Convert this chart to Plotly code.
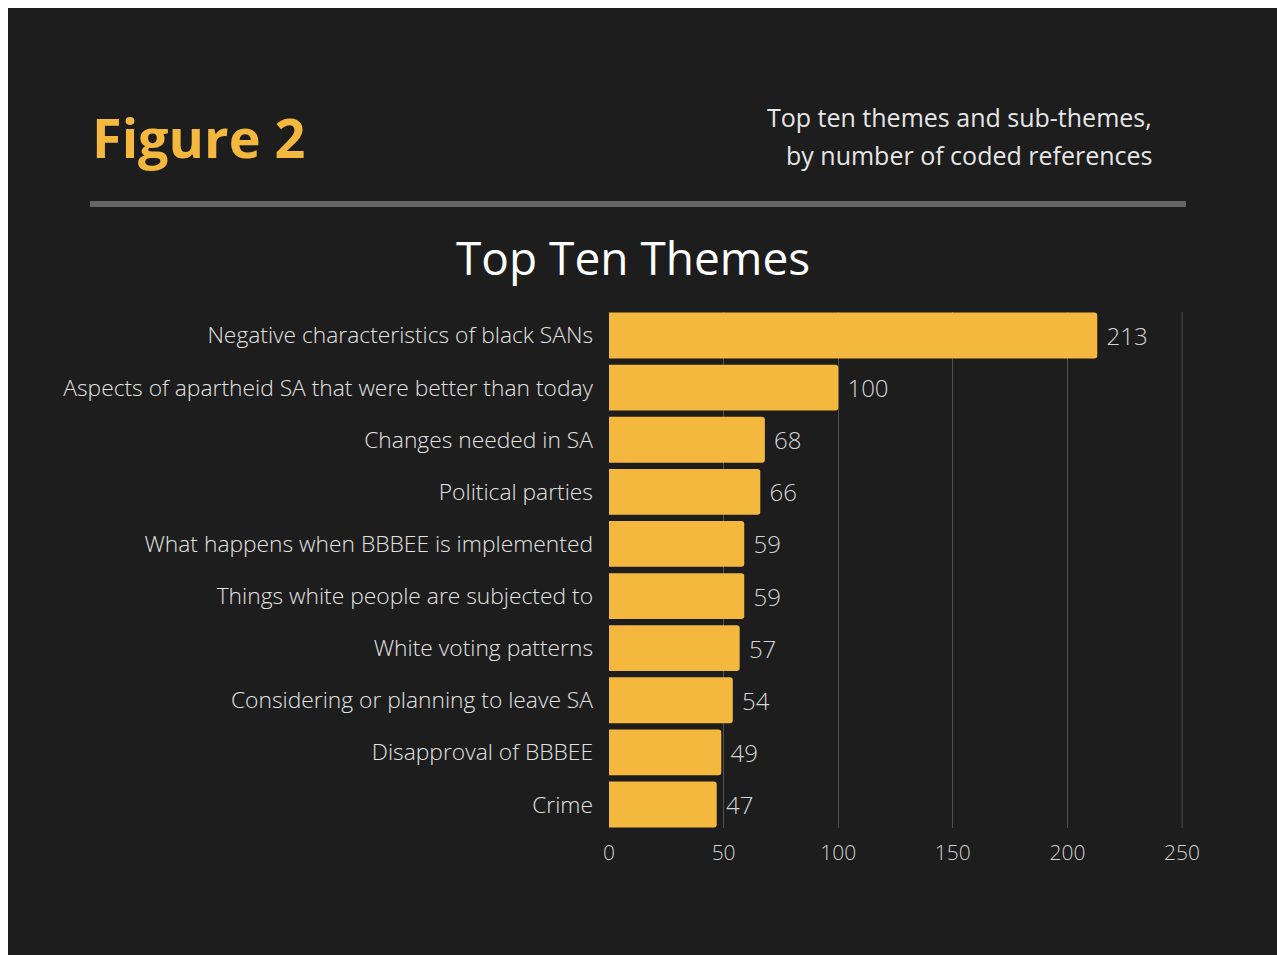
import plotly.graph_objects as go

categories = [
    "Negative characteristics of black SANs",
    "Aspects of apartheid SA that were better than today",
    "Changes needed in SA",
    "Political parties",
    "What happens when BBBEE is implemented",
    "Things white people are subjected to",
    "White voting patterns",
    "Considering or planning to leave SA",
    "Disapproval of BBBEE",
    "Crime",
]
values = [213, 100, 68, 66, 59, 59, 57, 54, 49, 47]
x_ticks = [0, 50, 100, 150, 200, 250]

W, H = 1277, 955
L, R, T, B = 609, 1183, 312, 828
BG = "#1d1d1d"
GOLD = "#f5b83f"
FONT = "Open Sans"
GRID = "#505050"


def px2x(p):
    return (p - L) / (R - L)


def px2y(p):
    return (B - p) / (B - T)


fig = go.Figure()
fig.add_trace(go.Bar(
    x=values,
    y=categories,
    orientation="h",
    marker=dict(color=GOLD, cornerradius=3, line=dict(width=0)),
    text=values,
    textposition="outside",
    texttemplate=" %{text}",
    textfont=dict(family=FONT, size=24, color="#d6d6d6", weight=300),
    cliponaxis=False,
    hoverinfo="skip",
))

shapes = [
    # white border top & left
    dict(type="rect", xref="paper", yref="paper", x0=px2x(0), x1=px2x(W), y0=px2y(0), y1=px2y(8),
         fillcolor="white", line=dict(width=0), layer="above"),
    dict(type="rect", xref="paper", yref="paper", x0=px2x(0), x1=px2x(8), y0=px2y(0), y1=px2y(H),
         fillcolor="white", line=dict(width=0), layer="above"),
    # separator
    dict(type="line", xref="paper", yref="paper", x0=px2x(90), x1=px2x(1186), y0=px2y(204), y1=px2y(204),
         line=dict(color="#666666", width=6)),
    # last gridline at the range edge
    dict(type="line", xref="x", yref="paper", x0=x_ticks[-1], x1=x_ticks[-1], y0=0, y1=1,
         line=dict(color=GRID, width=1), layer="below"),
]

annotations = [
    dict(text="<b>Figure 2</b>", xref="paper", yref="paper", x=px2x(90), y=px2y(137),
         xanchor="left", yanchor="middle", showarrow=False,
         font=dict(family=FONT, size=54, color=GOLD)),
    dict(text="Top ten themes and sub-themes,", xref="paper", yref="paper", x=px2x(1154), y=px2y(117),
         xanchor="right", yanchor="middle", showarrow=False,
         font=dict(family=FONT, size=25, color="#e6e6e6")),
    dict(text="by number of coded references", xref="paper", yref="paper", x=px2x(1154), y=px2y(155),
         xanchor="right", yanchor="middle", showarrow=False,
         font=dict(family=FONT, size=25, color="#e6e6e6")),
    dict(text="Top Ten Themes", xref="paper", yref="paper", x=px2x(633), y=px2y(257),
         xanchor="center", yanchor="middle", showarrow=False,
         font=dict(family=FONT, size=46, color="#ffffff")),
]

fig.update_layout(
    width=W, height=H,
    margin=dict(l=L, r=W - R, t=T, b=H - B, pad=0),
    paper_bgcolor=BG, plot_bgcolor=BG,
    showlegend=False,
    bargap=0.12,
    shapes=shapes,
    annotations=annotations,
    xaxis=dict(
        range=[0, 250.4], tickvals=x_ticks, showgrid=True, gridcolor=GRID, gridwidth=1,
        zeroline=False, showline=False, fixedrange=True,
        tickfont=dict(family=FONT, size=21, color="#d2d2d2", weight=300),
        ticklabelstandoff=10,
    ),
    yaxis=dict(
        categoryorder="array", categoryarray=categories[::-1], range=[-0.45, 9.45],
        showgrid=False, zeroline=False, showline=False, fixedrange=True,
        tickfont=dict(family=FONT, size=22.8, color="#e2e2e2", weight=300),
        ticklabelstandoff=15,
    ),
)

fig.write_html("out.html")
